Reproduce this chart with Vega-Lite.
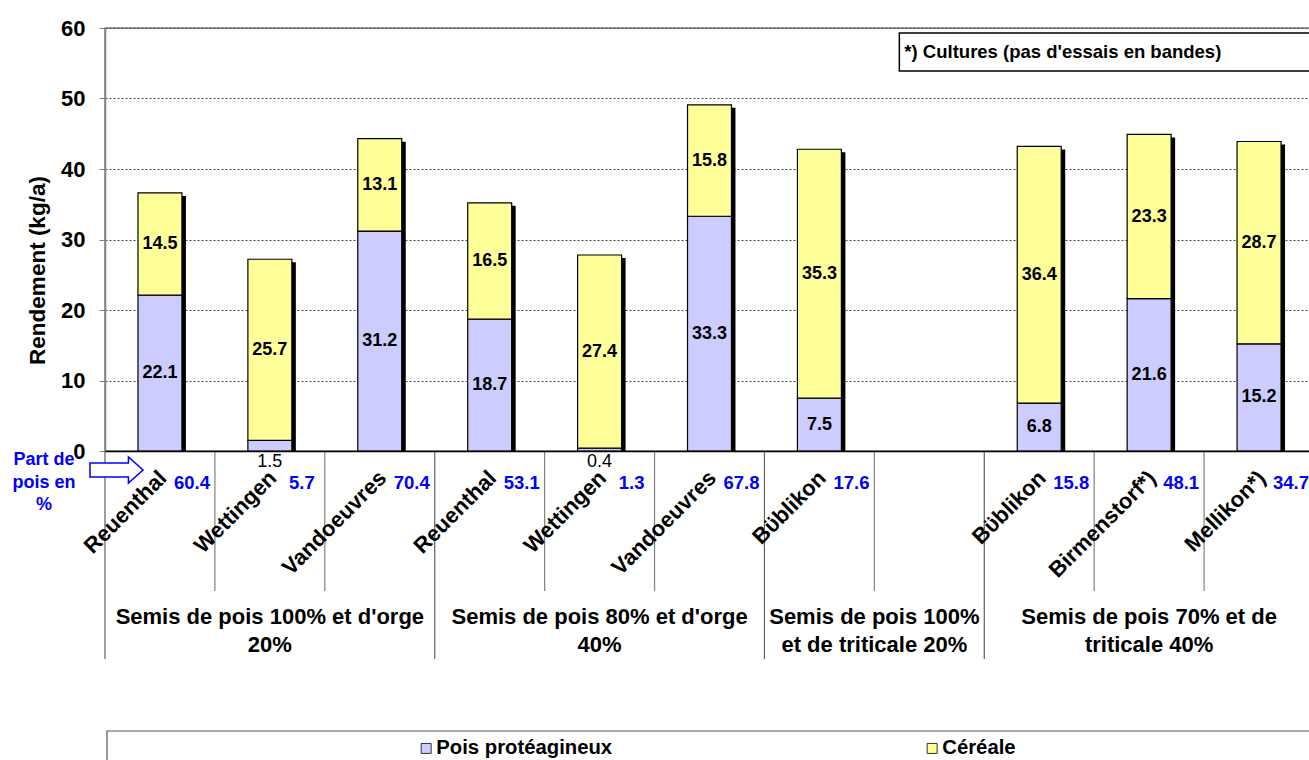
{
  "$schema": "https://vega.github.io/schema/vega-lite/v6.json",
  "autosize": {"type": "none"},
  "padding": {"left": 105, "top": 28, "right": 0, "bottom": 309},
  "width": 1209,
  "height": 423,
  "background": "white",
  "config": {
    "font": "Liberation Sans",
    "view": {"stroke": "#808080", "strokeWidth": 1.5}
  },
  "datasets": {
    "yields": [
      {"key": "A Reuenthal", "cat": "Pois protéagineux", "value": 22.1},
      {"key": "A Reuenthal", "cat": "Céréale", "value": 14.5},
      {"key": "B Wettingen", "cat": "Pois protéagineux", "value": 1.5},
      {"key": "B Wettingen", "cat": "Céréale", "value": 25.7},
      {"key": "C Vandoeuvres", "cat": "Pois protéagineux", "value": 31.2},
      {"key": "C Vandoeuvres", "cat": "Céréale", "value": 13.1},
      {"key": "D Reuenthal", "cat": "Pois protéagineux", "value": 18.7},
      {"key": "D Reuenthal", "cat": "Céréale", "value": 16.5},
      {"key": "E Wettingen", "cat": "Pois protéagineux", "value": 0.4},
      {"key": "E Wettingen", "cat": "Céréale", "value": 27.4},
      {"key": "F Vandoeuvres", "cat": "Pois protéagineux", "value": 33.3},
      {"key": "F Vandoeuvres", "cat": "Céréale", "value": 15.8},
      {"key": "G Bϋblikon", "cat": "Pois protéagineux", "value": 7.5},
      {"key": "G Bϋblikon", "cat": "Céréale", "value": 35.3},
      {"key": "I Bϋblikon", "cat": "Pois protéagineux", "value": 6.8},
      {"key": "I Bϋblikon", "cat": "Céréale", "value": 36.4},
      {"key": "J Birmenstorf*)", "cat": "Pois protéagineux", "value": 21.6},
      {"key": "J Birmenstorf*)", "cat": "Céréale", "value": 23.3},
      {"key": "K Mellikon*)", "cat": "Pois protéagineux", "value": 15.2},
      {"key": "K Mellikon*)", "cat": "Céréale", "value": 28.7}
    ],
    "sites": [
      {"key": "A Reuenthal", "part": 60.4},
      {"key": "B Wettingen", "part": 5.7},
      {"key": "C Vandoeuvres", "part": 70.4},
      {"key": "D Reuenthal", "part": 53.1},
      {"key": "E Wettingen", "part": 1.3},
      {"key": "F Vandoeuvres", "part": 67.8},
      {"key": "G Bϋblikon", "part": 17.6},
      {"key": "I Bϋblikon", "part": 15.8},
      {"key": "J Birmenstorf*)", "part": 48.1},
      {"key": "K Mellikon*)", "part": 34.7}
    ],
    "slots": [
      {"key": "A Reuenthal", "groupStart": true},
      {"key": "B Wettingen", "groupStart": false},
      {"key": "C Vandoeuvres", "groupStart": false},
      {"key": "D Reuenthal", "groupStart": true},
      {"key": "E Wettingen", "groupStart": false},
      {"key": "F Vandoeuvres", "groupStart": false},
      {"key": "G Bϋblikon", "groupStart": true},
      {"key": "H", "groupStart": false},
      {"key": "I Bϋblikon", "groupStart": true},
      {"key": "J Birmenstorf*)", "groupStart": false},
      {"key": "K Mellikon*)", "groupStart": false}
    ]
  },
  "layer": [
    {
      "data": {"values": [{}]},
      "mark": {"type": "rect", "fill": "white", "fillOpacity": 0, "stroke": "#555", "strokeWidth": 1.2, "xOffset": 2, "yOffset": 280, "y2Offset": 340, "x2Offset": 200},
      "encoding": {
        "x": {"datum": "A Reuenthal", "type": "nominal", "bandPosition": 0, "title": null},
        "x2": {"datum": "K Mellikon*)"},
        "y": {"datum": 0, "type": "quantitative", "title": "Rendement (kg/a)"},
        "y2": {"datum": 0}
      }
    },
    {
      "data": {"values": [{}]},
      "mark": {"type": "rect", "fill": "white", "stroke": "#000", "strokeWidth": 1.5, "xOffset": 25, "yOffset": 5, "y2Offset": 43, "x2Offset": 200},
      "encoding": {
        "x": {"datum": "H", "type": "nominal", "bandPosition": 0, "title": null},
        "x2": {"datum": "K Mellikon*)"},
        "y": {"datum": 60, "type": "quantitative", "title": "Rendement (kg/a)"},
        "y2": {"datum": 60}
      }
    },
    {
      "data": {"values": [{}]},
      "mark": {"type": "text", "align": "left", "baseline": "middle", "dx": 30, "dy": 24, "fontSize": 18.5, "fontWeight": "bold", "color": "#000"},
      "encoding": {
        "x": {"datum": "H", "type": "nominal", "bandPosition": 0, "title": null},
        "y": {"datum": 60, "type": "quantitative", "title": "Rendement (kg/a)"},
        "text": {"value": "*) Cultures (pas d'essais en bandes)"}
      }
    },
    {
      "data": {"name": "yields"},
      "mark": {"type": "bar", "fill": "#000", "width": {"band": 0.4}, "xOffset": 4, "x2Offset": 4, "yOffset": 3},
      "encoding": {
        "x": {"field": "key", "type": "nominal", "title": null},
        "y": {"aggregate": "sum", "field": "value", "type": "quantitative", "title": "Rendement (kg/a)"}
      }
    },
    {
      "data": {"name": "yields"},
      "mark": {"type": "bar", "width": {"band": 0.4}, "stroke": "#000", "strokeWidth": 1.2},
      "encoding": {
        "x": {
          "field": "key", "type": "nominal", "title": null,
          "scale": {
            "domain": ["A Reuenthal", "B Wettingen", "C Vandoeuvres", "D Reuenthal", "E Wettingen", "F Vandoeuvres", "G Bϋblikon", "H", "I Bϋblikon", "J Birmenstorf*)", "K Mellikon*)"],
            "paddingInner": 0, "paddingOuter": 0
          },
          "axis": {
            "title": null, "ticks": false, "tickSize": 0, "grid": false,
            "domainColor": "#000", "domainWidth": 1.5,
            "labelExpr": "substring(datum.label, 2)",
            "labelAngle": -45, "labelAlign": "right", "labelBaseline": "middle",
            "labelFontSize": 22, "labelFontWeight": "bold", "labelColor": "#000",
            "labelPadding": 23, "labelOffset": 3, "labelOverlap": false, "labelBound": false, "labelLimit": 400
          }
        },
        "y": {
          "field": "value", "type": "quantitative", "stack": "zero", "title": "Rendement (kg/a)",
          "scale": {"domain": [0, 60], "nice": false},
          "axis": {
            "title": "Rendement (kg/a)", "titleFontSize": 22.5, "titleFontWeight": "bold", "titleColor": "#000",
            "titleX": -68, "titleY": 242, "titleAlign": "center", "titleBaseline": "middle", "titleAngle": -90,
            "values": [0, 10, 20, 30, 40, 50, 60],
            "labelFontSize": 22, "labelFontWeight": "bold", "labelColor": "#000", "labelPadding": 14,
            "tickSize": 6, "tickColor": "#808080", "domainColor": "#808080", "domainWidth": 1.5,
            "grid": true, "gridColor": "#444", "gridDash": [2, 2], "gridWidth": 1
          }
        },
        "color": {
          "field": "cat", "type": "nominal",
          "scale": {"domain": ["Pois protéagineux", "Céréale"], "range": ["#CCCCFF", "#FFFF99"]},
          "legend": {
            "orient": "none", "legendX": 311, "legendY": 710, "direction": "horizontal", "title": null,
            "columnPadding": 309, "padding": 0,
            "symbolType": "square", "symbolSize": 100, "symbolStrokeColor": "#333", "symbolStrokeWidth": 1,
            "labelFontSize": 20.3, "labelFontWeight": "bold", "labelColor": "#000", "labelOffset": 0, "labelLimit": 400
          }
        },
        "order": {"field": "cat", "type": "nominal", "sort": "descending"}
      }
    },
    {
      "data": {"name": "yields"},
      "mark": {"type": "text", "baseline": "middle", "align": "center", "fontSize": 18, "fontWeight": "bold", "color": "#000"},
      "encoding": {
        "x": {"field": "key", "type": "nominal", "title": null},
        "y": {"field": "value", "type": "quantitative", "stack": "zero", "bandPosition": 0.5, "title": "Rendement (kg/a)"},
        "detail": {"field": "cat"},
        "order": {"field": "cat", "type": "nominal", "sort": "descending"},
        "text": {"condition": {"test": "datum.value < 2", "value": ""}, "field": "value", "type": "quantitative", "format": ".1f"}
      }
    },
    {
      "data": {"name": "yields"},
      "transform": [{"filter": "datum.value < 2"}],
      "mark": {"type": "text", "baseline": "middle", "align": "center", "fontSize": 18, "color": "#000", "dy": 11},
      "encoding": {
        "x": {"field": "key", "type": "nominal", "title": null},
        "y": {"datum": 0, "type": "quantitative", "title": "Rendement (kg/a)"},
        "text": {"field": "value", "type": "quantitative", "format": ".1f"}
      }
    },
    {
      "data": {"name": "sites"},
      "mark": {"type": "text", "baseline": "middle", "align": "center", "fontSize": 18.5, "fontWeight": "bold", "color": "#0000FF", "dx": 32, "dy": 32},
      "encoding": {
        "x": {"field": "key", "type": "nominal", "title": null},
        "y": {"datum": 0, "type": "quantitative", "title": "Rendement (kg/a)"},
        "text": {"field": "part", "type": "quantitative", "format": ".1f"}
      }
    },
    {
      "data": {"name": "slots"},
      "transform": [{"filter": "!datum.groupStart"}],
      "mark": {"type": "rule", "color": "#808080", "strokeWidth": 1.2, "y2Offset": 140},
      "encoding": {
        "x": {"field": "key", "type": "nominal", "bandPosition": 0, "title": null},
        "y": {"datum": 0, "type": "quantitative", "title": "Rendement (kg/a)"},
        "y2": {"datum": 0}
      }
    },
    {
      "data": {"name": "slots"},
      "transform": [{"filter": "datum.groupStart"}],
      "mark": {"type": "rule", "color": "#606060", "strokeWidth": 1.2, "y2Offset": 208},
      "encoding": {
        "x": {"field": "key", "type": "nominal", "bandPosition": 0, "title": null},
        "y": {"datum": 0, "type": "quantitative", "title": "Rendement (kg/a)"},
        "y2": {"datum": 0}
      }
    },
    {
      "data": {"values": [{}]},
      "mark": {"type": "text", "align": "center", "baseline": "middle", "dx": -61, "dy": 9, "fontSize": 18, "fontWeight": "bold", "color": "#0000FF", "lineHeight": 22.5},
      "encoding": {
        "x": {"datum": "A Reuenthal", "type": "nominal", "bandPosition": 0, "title": null},
        "y": {"datum": 0, "type": "quantitative", "title": "Rendement (kg/a)"},
        "text": {"value": ["Part de", "pois en", "%"]}
      }
    },
    {
      "data": {"values": [{}]},
      "mark": {"type": "point", "shape": "M-1,-0.26L0.45,-0.26L0.45,-0.49L1,0L0.45,0.49L0.45,0.26L-1,0.26Z", "size": 2809, "filled": true, "fill": "white", "stroke": "#0000FF", "strokeWidth": 1.5, "opacity": 1, "xOffset": 11.5, "yOffset": 19},
      "encoding": {
        "x": {"datum": "A Reuenthal", "type": "nominal", "bandPosition": 0, "title": null},
        "y": {"datum": 0, "type": "quantitative", "title": "Rendement (kg/a)"}
      }
    },
    {
      "data": {"values": [
        {"key": "B Wettingen", "label": ["Semis de pois 100% et d'orge", "20%"]},
        {"key": "E Wettingen", "label": ["Semis de pois 80% et d'orge", "40%"]},
        {"key": "J Birmenstorf*)", "label": ["Semis de pois 70% et de", "triticale 40%"]}
      ]},
      "mark": {"type": "text", "align": "center", "baseline": "middle", "dy": 166, "fontSize": 22, "fontWeight": "bold", "color": "#000", "lineHeight": 28},
      "encoding": {
        "x": {"field": "key", "type": "nominal", "title": null},
        "y": {"datum": 0, "type": "quantitative", "title": "Rendement (kg/a)"},
        "text": {"field": "label"}
      }
    },
    {
      "data": {"values": [
        {"key": "H", "label": ["Semis de pois 100%", "et de triticale 20%"]}
      ]},
      "mark": {"type": "text", "align": "center", "baseline": "middle", "dy": 166, "fontSize": 22, "fontWeight": "bold", "color": "#000", "lineHeight": 28},
      "encoding": {
        "x": {"field": "key", "type": "nominal", "bandPosition": 0, "title": null},
        "y": {"datum": 0, "type": "quantitative", "title": "Rendement (kg/a)"},
        "text": {"field": "label"}
      }
    }
  ]
}
